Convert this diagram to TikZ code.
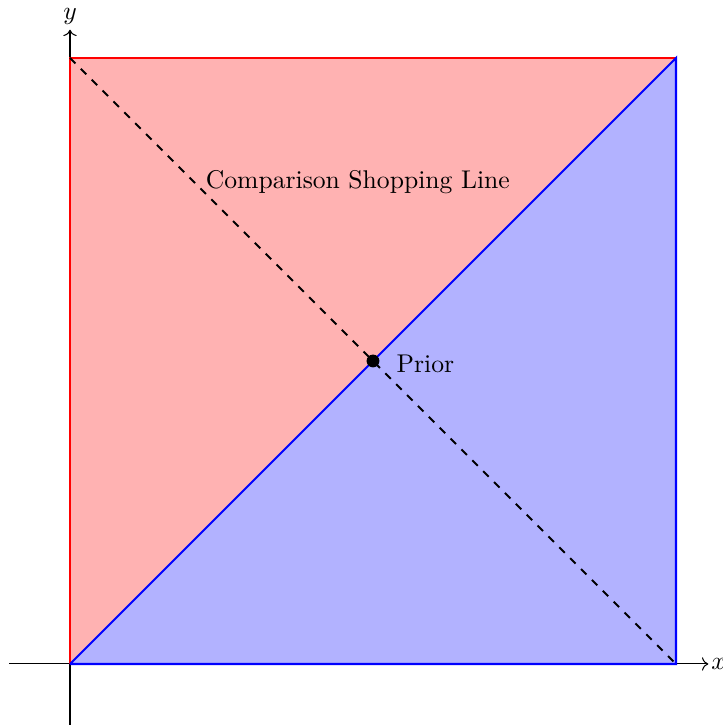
\documentclass[tikz,border=0pt]{standalone}
\usepackage{amsmath}
\usetikzlibrary{arrows.meta, positioning}

\tikzset{
    edge/.style={thick},
    dot/.style={circle, fill=black, inner sep=0pt, minimum size=5pt},
}

\begin{document}
\begin{tikzpicture}[x=1.385cm, y=1.385cm]
    \useasboundingbox (-0.693, -0.624) rectangle (6.465, 6.574);

    % corners of the square
    \coordinate (O) at (0, 0);
    \coordinate (TL) at (0, 6);
    \coordinate (TR) at (6, 6);
    \coordinate (BR) at (6, 0);
    \coordinate (xs) at (-0.6, 0);
    \coordinate (xe) at (6.32, 0);
    \coordinate (ys) at (0, -0.6);
    \coordinate (ye) at (0, 6.28);

    % the two halves
    \fill[red!30] (O) -- (TL) -- (TR) -- cycle;
    \fill[blue!30] (O) -- (TR) -- (BR) -- cycle;

    % axes
    \draw[->] (xs) -- (xe) node[right, inner sep=1pt] {$x$};
    \draw[->] (ys) -- (ye) node[above, inner sep=2pt] {$y$};

    % edges
    \draw[edge, red] (O) -- (TL) -- (TR);
    \draw[edge, blue] (O) -- (TR) -- (BR) -- (O);

    % comparison shopping line
    \draw[edge, dashed] (TL) -- (BR);
    \node (label) at (2.85, 4.77) {Comparison Shopping Line};

    % prior
    \node[dot] (prior) at (3, 3) {};
    \node[right=3pt of prior, yshift=-1pt] (priorlabel) {Prior};
\end{tikzpicture}
\end{document}
